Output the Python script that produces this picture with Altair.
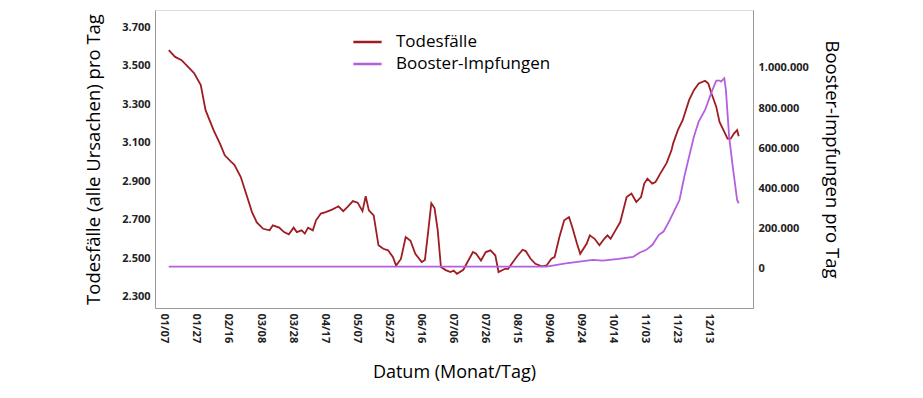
import altair as alt
import pandas as pd

RED = "#9e1c22"
PURPLE = "#b55ee0"

death_dates = [
    "2021-01-10", "2021-01-14", "2021-01-18", "2021-01-23", "2021-01-26", "2021-01-30",
    "2021-02-02", "2021-02-07", "2021-02-11", "2021-02-14", "2021-02-18", "2021-02-20",
    "2021-02-24", "2021-02-28", "2021-03-03", "2021-03-06", "2021-03-10", "2021-03-14",
    "2021-03-16", "2021-03-20", "2021-03-23", "2021-03-26", "2021-03-29", "2021-03-31",
    "2021-04-03", "2021-04-05", "2021-04-07", "2021-04-10", "2021-04-12", "2021-04-15",
    "2021-04-18", "2021-04-22", "2021-04-26", "2021-04-29", "2021-05-02", "2021-05-05",
    "2021-05-08", "2021-05-11", "2021-05-13", "2021-05-15", "2021-05-18", "2021-05-21",
    "2021-05-24", "2021-05-27", "2021-05-30", "2021-06-01", "2021-06-04", "2021-06-07",
    "2021-06-10", "2021-06-13", "2021-06-17", "2021-06-19", "2021-06-21", "2021-06-23",
    "2021-06-25", "2021-06-27", "2021-06-29", "2021-07-02", "2021-07-05", "2021-07-07",
    "2021-07-09", "2021-07-13", "2021-07-15", "2021-07-19", "2021-07-21", "2021-07-24",
    "2021-07-27", "2021-07-30", "2021-08-02", "2021-08-04", "2021-08-08", "2021-08-10",
    "2021-08-13", "2021-08-16", "2021-08-19", "2021-08-21", "2021-08-24", "2021-08-27",
    "2021-08-31", "2021-09-03", "2021-09-06", "2021-09-08", "2021-09-11", "2021-09-14",
    "2021-09-17", "2021-09-19", "2021-09-22", "2021-09-24", "2021-09-28", "2021-09-30",
    "2021-10-03", "2021-10-06", "2021-10-09", "2021-10-11", "2021-10-13", "2021-10-16",
    "2021-10-19", "2021-10-23", "2021-10-26", "2021-10-29", "2021-11-01", "2021-11-03",
    "2021-11-05", "2021-11-08", "2021-11-10", "2021-11-13", "2021-11-17", "2021-11-20",
    "2021-11-21", "2021-11-24", "2021-11-27", "2021-12-01", "2021-12-04", "2021-12-07",
    "2021-12-11", "2021-12-13", "2021-12-15", "2021-12-18", "2021-12-20", "2021-12-23",
    "2021-12-25", "2021-12-27", "2021-12-29", "2021-12-31", "2022-01-01",
]
death_values = [
    3581, 3546, 3529, 3486, 3460, 3399,
    3269, 3165, 3095, 3034, 3000, 2985,
    2921, 2817, 2739, 2685, 2652, 2644,
    2670, 2658, 2635, 2623, 2658, 2635,
    2644, 2627, 2658, 2644, 2696, 2731,
    2739, 2752, 2769, 2744, 2769, 2796,
    2788, 2744, 2821, 2748, 2722, 2566,
    2548, 2540, 2505, 2461, 2495, 2609,
    2590, 2522, 2479, 2490, 2635, 2785,
    2760, 2645, 2453, 2437, 2427, 2435,
    2418, 2439, 2470, 2531, 2522, 2487,
    2531, 2540, 2513, 2427, 2444, 2444,
    2479, 2513, 2543, 2536, 2496, 2470,
    2457, 2461, 2496, 2505, 2609, 2696,
    2713, 2661, 2574, 2522, 2574, 2618,
    2600, 2566, 2600, 2618, 2600, 2644,
    2687, 2817, 2835, 2791, 2817, 2887,
    2913, 2887, 2895, 2939, 2995, 3060,
    3095, 3165, 3217, 3321, 3373, 3408,
    3422, 3408, 3356, 3286, 3208, 3156,
    3121, 3121, 3147, 3165, 3133,
]

booster_dates = [
    "2021-01-10", "2021-09-03", "2021-09-15", "2021-10-02", "2021-10-08", "2021-10-18",
    "2021-10-27", "2021-10-31", "2021-11-04", "2021-11-08", "2021-11-12", "2021-11-15",
    "2021-11-19", "2021-11-22", "2021-11-25", "2021-11-28", "2021-12-01", "2021-12-04",
    "2021-12-07", "2021-12-11", "2021-12-14", "2021-12-16", "2021-12-18", "2021-12-20",
    "2021-12-21", "2021-12-23", "2021-12-24", "2021-12-26", "2021-12-28", "2021-12-31",
    "2022-01-01",
]
booster_values = [
    12000, 12000, 28000, 45000, 42000, 50000,
    60000, 81000, 94000, 119000, 169000, 186000,
    244000, 294000, 343000, 459000, 559000, 658000,
    733000, 791000, 857000, 899000, 937000, 937000,
    932000, 949000, 890000, 658000, 526000, 343000,
    327000,
]

x_tick_dates = [
    (1, 7), (1, 27), (2, 16), (3, 8), (3, 28), (4, 17), (5, 7), (5, 27), (6, 16),
    (7, 6), (7, 26), (8, 15), (9, 4), (9, 24), (10, 14), (11, 3), (11, 23), (12, 13),
]
left_ticks = [2300, 2500, 2700, 2900, 3100, 3300, 3500, 3700]
right_ticks = [0, 200000, 400000, 600000, 800000, 1000000]
series_names = ["Todesfälle", "Booster-Impfungen"]

deaths = pd.DataFrame({"date": death_dates, "value": death_values, "series": series_names[0]})
boost = pd.DataFrame({"date": booster_dates, "value": booster_values, "series": series_names[1]})

FONT = "Open Sans"
german = "replace(format(datum.value, ',.0f'), regexp(',', 'g'), '.')"

x_enc = alt.X(
    "date:T",
    scale=alt.Scale(
        type="utc",
        domain=[
            alt.DateTime(year=2021, month=1, date=1, hours=10, utc=True),
            alt.DateTime(year=2022, month=1, date=9, hours=22, utc=True),
        ],
    ),
    axis=alt.Axis(
        values=[alt.DateTime(year=2021, month=m, date=d, utc=True) for m, d in x_tick_dates],
        labelExpr="utcFormat(datum.value, '%m/%d')",
        labelAngle=90,
        ticks=False,
        grid=False,
        labelPadding=5,
        labelFont=FONT,
        labelFontWeight="bold",
        labelFontSize=11,
        labelColor="#222222",
        domainColor="#999999",
        title="Datum (Monat/Tag)",
        titleFont=FONT,
        titleFontSize=18,
        titleFontWeight="normal",
        titleColor="#000000",
        titlePadding=21,
    ),
)

color_enc = alt.Color(
    "series:N",
    scale=alt.Scale(domain=series_names, range=[RED, PURPLE]),
    legend=alt.Legend(
        title=None,
        orient="none",
        legendX=197,
        legendY=21,
        symbolType="stroke",
        symbolSize=800,
        symbolStrokeWidth=2.5,
        labelFont=FONT,
        labelFontSize=17,
        labelColor="#000000",
        labelLimit=400,
        clipHeight=22,
        rowPadding=0,
        labelOffset=13,
        padding=0,
    ),
)

death_line = alt.Chart(deaths).mark_line(strokeWidth=1.8).encode(
    x=x_enc,
    y=alt.Y(
        "value:Q",
        scale=alt.Scale(domain=[2240, 3790], zero=False, nice=False),
        axis=alt.Axis(
            orient="left",
            values=left_ticks,
            labelExpr=german,
            ticks=False,
            grid=False,
            labelPadding=5,
            labelFont=FONT,
            labelFontWeight="bold",
            labelFontSize=11,
            labelColor="#222222",
            domainColor="#999999",
            title="Todesfälle (alle Ursachen) pro Tag",
            titleFont=FONT,
            titleFontSize=18.5,
            titleFontWeight="normal",
            titleColor="#000000",
            titlePadding=18,
        ),
    ),
    color=color_enc,
)

booster_line = alt.Chart(boost).mark_line(strokeWidth=1.8).encode(
    x=x_enc,
    y=alt.Y(
        "value:Q",
        scale=alt.Scale(domain=[-194000, 1288000], zero=False, nice=False),
        axis=alt.Axis(
            orient="right",
            values=right_ticks,
            labelExpr=german,
            ticks=False,
            grid=False,
            labelPadding=5,
            labelFont=FONT,
            labelFontWeight="bold",
            labelFontSize=11,
            labelColor="#222222",
            domainColor="#999999",
            title="Booster-Impfungen pro Tag",
            titleFont=FONT,
            titleFontSize=18.5,
            titleFontWeight="normal",
            titleColor="#000000",
            titlePadding=13,
        ),
    ),
    color=color_enc,
)

chart = (
    alt.layer(death_line, booster_line)
    .resolve_scale(y="independent")
    .properties(
        width=598,
        height=298,
        autosize=alt.AutoSizeParams(type="none"),
        padding={"left": 147, "top": 2, "right": 160, "bottom": 80},
    )
    .configure_view(stroke=None)
    .configure(background="white")
)

chart.save("out.html", embed_options={"renderer": "svg", "actions": False})
